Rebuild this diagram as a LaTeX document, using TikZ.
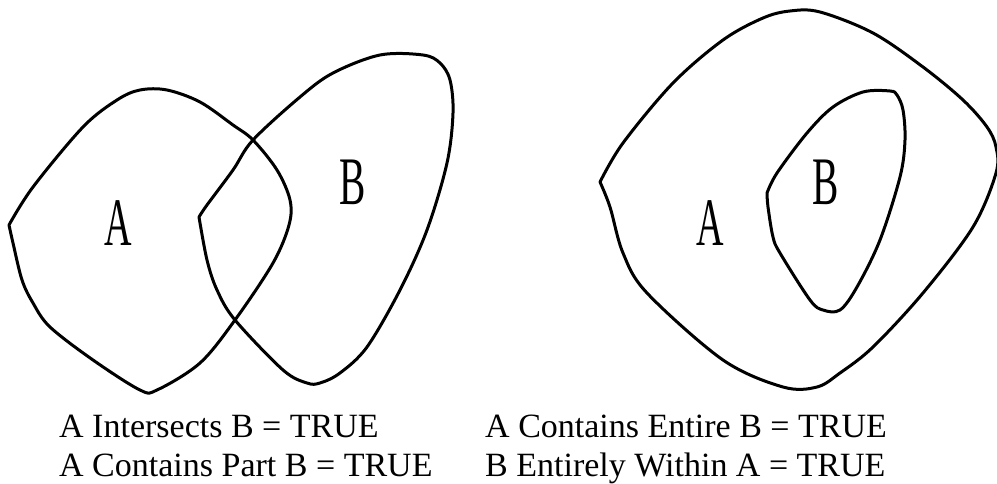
\documentclass[tikz,border=0pt]{standalone}
\usepackage{fontspec}
\setmainfont{Liberation Serif}
\begin{document}
\begin{tikzpicture}[x=1pt,y=-1pt,
  blob/.style={line width=3pt,line join=round,line cap=round},
  letter/.style={anchor=base,inner sep=0pt,font=\fontsize{68}{68}\selectfont},
  caption/.style={anchor=base west,inner sep=0pt,font=\fontsize{34}{40}\selectfont}]
\useasboundingbox (0,0) rectangle (997,484);
% left figure: A
\draw[blob] plot[smooth,tension=0.55] coordinates {(9,225) (33,187) (83,127) (117,100) (140,90) (167,90) (200,102) (233,125) (253,140) (277,170) (290,200) (289,225) (273,263) (235,320) (200,363) (157,390) (140,390) (93,360) (50,327) (33,303) (22,280) (13,243) (9,225)};
% left figure: B
\draw[blob] plot[smooth,tension=0.55] coordinates {(199,217) (207,205) (233,170) (253,140) (300,97) (333,73) (380,55) (423,55) (440,63) (450,80) (453,113) (447,163) (427,230) (400,290) (367,347) (340,373) (320,383) (307,383) (283,370) (235,320) (217,290) (207,260) (199,217)};
% right figure: outer A
\draw[blob] plot[smooth,tension=0.55] coordinates {(600,182) (623,143) (673,83) (723,40) (763,18) (790,11) (820,12) (873,33) (923,67) (963,100) (987,127) (996,147) (996,173) (973,227) (923,293) (873,347) (840,373) (817,387) (783,387) (723,360) (647,293) (623,253) (610,207) (600,182)};
% right figure: inner B
\draw[blob] plot[smooth,tension=0.55] coordinates {(767,193) (777,173) (807,133) (833,107) (863,92) (890,91) (897,95) (903,110) (905,140) (900,177) (880,240) (857,287) (840,310) (823,310) (810,300) (780,253) (773,237) (768,207) (767,193)};
% letters
\node[letter] (la) at (118,245) {\scalebox{0.56}[1]{A}};
\node[letter] (lb) at (353,205) {\scalebox{0.58}[1]{B}};
\node[letter] (ra) at (710,245) {\scalebox{0.56}[1]{A}};
\node[letter] (rb) at (826,205) {\scalebox{0.58}[1]{B}};
% captions
\node[caption] (c1) at (59,437) {A Intersects B = TRUE};
\node[caption] (c2) at (59,476) {A Contains Part B = TRUE};
\node[caption] (c3) at (485,437) {A Contains Entire B = TRUE};
\node[caption] (c4) at (485,476) {B Entirely Within A = TRUE};
\end{tikzpicture}
\end{document}
